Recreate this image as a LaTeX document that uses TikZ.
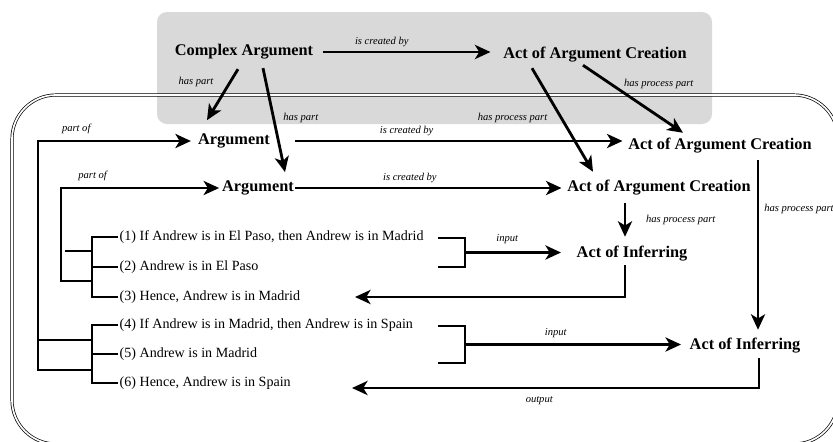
\documentclass[tikz,border=0pt]{standalone}
\usepackage{fontspec}
\setmainfont{Liberation Serif}
\usetikzlibrary{arrows.meta}

\newcommand{\conceptfont}{\fontsize{11.6}{14}\selectfont\bfseries}
\newcommand{\claimfont}{\fontsize{10}{12}\selectfont}
\newcommand{\relfont}{\fontsize{7.5}{9}\selectfont\itshape}

\newcommand{\inbracket}[4]{
	\pgfmathsetmacro{\IBxr}{#2+27}
	\pgfmathsetmacro{\IBym}{0.5*#3+0.5*#4}
	\draw[brk] (#2,#3) -- (\IBxr,#3) -- (\IBxr,#4) -- (#2,#4);
	\coordinate (#1) at (\IBxr,\IBym);
}

\tikzset{
	concept/.style={font=\conceptfont, inner sep=1pt},
	claim/.style={font=\claimfont, anchor=west, inner sep=1pt},
	rel/.style={font=\relfont, inner sep=0pt},
	link/.style={line width=2pt, -{Stealth[length=11pt,width=10pt,inset=3pt]}},
	brk/.style={line width=2pt}
}

\begin{document}
\begin{tikzpicture}[x=0.025cm,y=-0.025cm]
\useasboundingbox (0,0) rectangle (833,441);
\clip (0,0) rectangle (833,441);

\pgfmathsetmacro{\stX}{118}
\pgfmathsetmacro{\brkX}{92}
\pgfmathsetmacro{\inX}{438}

\fill[gray!30, rounded corners=0.25cm] (157,12) rectangle (712,124);
\draw[double, double distance=1.2pt, line width=0.5pt, rounded corners=1.1cm] (12,95) rectangle (838,444);

\node[concept] (cplx) at (244,52) {Complex Argument};
\node[concept] (actTop) at (595,55) {Act of Argument Creation};
\node[concept] (argA) at (234,141) {Argument};
\node[concept] (argB) at (258,188) {Argument};
\node[concept] (actA) at (720,146) {Act of Argument Creation};
\node[concept] (actB) at (659,188) {Act of Argument Creation};
\node[concept] (infA) at (632,254) {Act of Inferring};
\node[concept] (infB) at (745,346) {Act of Inferring};

\node[claim] (s1) at (\stX,237) {(1) If Andrew is in El Paso, then Andrew is in Madrid};
\node[claim] (s2) at (\stX,267) {(2) Andrew is in El Paso};
\node[claim] (s3) at (\stX,297) {(3) Hence, Andrew is in Madrid};
\node[claim] (s4) at (\stX,325) {(4) If Andrew is in Madrid, then Andrew is in Spain};
\node[claim] (s5) at (\stX,354) {(5) Andrew is in Madrid};
\node[claim] (s6) at (\stX,383) {(6) Hence, Andrew is in Spain};

\draw[link] ([shift={(-6,8)}]cplx.south) -- ([shift={(-27,-12)}]argA.north)
	node[rel, pos=0.25, left=11pt] {has part};
\draw[link] ([shift={(19,7)}]cplx.south) -- ([shift={(27,-7)}]argB.north)
	node[rel, pos=0.48, right=6pt] {has part};
\draw[link] ([xshift=6pt]cplx.east) -- ([xshift=-8pt]cplx.east -| actTop.west)
	node[rel, pos=0.35, above=3pt] {is created by};
\draw[link] ([shift={(-12,1)}]actTop.south) -- ([shift={(-37,-4)}]actA.north)
	node[rel, pos=0.27, right=9pt] {has process part};
\draw[link] ([shift={(-63,4)}]actTop.south) -- ([shift={(-66,-7)}]actB.north)
	node[rel, pos=0.48, left=9pt] {has process part};

\draw[link] ([xshift=17pt]argA.east) -- ([xshift=-3pt]argA.east -| actA.west)
	node[rel, pos=0.34, above=3pt] {is created by};
\draw[link] (argB.east) -- ([xshift=-3pt]argB.east -| actB.west)
	node[rel, pos=0.43, above=3pt] {is created by};
\draw[link] ([shift={(-34,6)}]actB.south) -- ([shift={(-7,-8)}]infA.north)
	node[rel, midway, right=14pt] {has process part};
\draw[link] ([shift={(38,5)}]actA.south) -- ([shift={(13,-7)}]infB.north)
	node[rel, pos=0.29, right=3.5pt] {has process part};

\coordinate (bA) at (\brkX,0);
\draw[brk] (s1.west) -| (bA |- s3.west) -- (s3.west);
\draw[brk] (s2.west) -- (bA |- s2.west);
\draw[brk] (s4.west) -| (bA |- s6.west) -- (s6.west);
\draw[brk] (s5.west) -- (bA |- s5.west);

\coordinate (jA) at (\brkX,281);
\coordinate (jB) at (\brkX,370);
\draw[link] (jA) -- ++(-31,0) |- ([xshift=-1pt]argB.west)
	node[rel, pos=0.6, above=4pt] {part of};
\draw[brk] (65,251) -- (\brkX,251);
\draw[link] (jB) -- ++(-54,0) |- ([xshift=-4pt]argA.west)
	node[rel, pos=0.625, above=4pt] {part of};
\draw[brk] (38,340) -- (\brkX,340);

\inbracket{inA}{\inX}{238}{267}
\inbracket{inB}{\inX}{326}{363}
\draw[link] (inA) -- ([xshift=-10pt]inA -| infA.west)
	node[rel, pos=0.44, above=5pt] {input};
\draw[link] (inB) -- ([xshift=-5pt]inB -| infB.west)
	node[rel, pos=0.42, above=4pt] {input};

\coordinate (outA) at (355,297);
\coordinate (outB) at (352,388);
\draw[link] ([shift={(-7,2)}]infA.south) |- (outA);
\draw[link] ([shift={(14,3)}]infB.south) |- (outB)
	node[rel, pos=0.77, below=5pt] {output};
\end{tikzpicture}
\end{document}
